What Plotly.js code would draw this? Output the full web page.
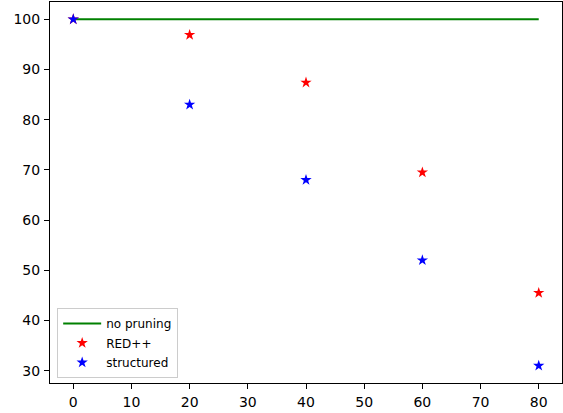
<!DOCTYPE html>
<html><head><meta charset="utf-8">
<script src="https://cdn.plot.ly/plotly-3.0.1.min.js"></script>
<style>body{margin:0;padding:0;}#chart{width:563px;height:413px;}</style>
</head><body><div id="chart"></div>
<script>
const pruning = [0, 20, 40, 60, 80];
const noPruningX = [0, 80];
const noPruningY = [100, 100];
const redpp = [100, 96.9, 87.4, 69.5, 45.5];
const structured = [100, 83.0, 68.0, 52.0, 31.0];
const xTicks = [0, 10, 20, 30, 40, 50, 60, 70, 80];
const yTicks = [30, 40, 50, 60, 70, 80, 90, 100];

const traces = [
  {x: noPruningX, y: noPruningY, mode: 'lines', name: 'no pruning', legendgroup: 'a', line: {color: 'green', width: 2}},
  {x: pruning, y: redpp, mode: 'markers', name: 'RED++', legendgroup: 'b', marker: {symbol: 'star', color: 'red', size: 8.5}},
  {x: pruning, y: structured, mode: 'markers', name: 'structured', legendgroup: 'c', marker: {symbol: 'star', color: 'blue', size: 8.5}}
];
const axisCommon = {
  showgrid: false, zeroline: false, showline: true, mirror: true,
  linecolor: 'black', linewidth: 1, ticks: 'outside', ticklen: 5, tickcolor: 'black',
  ticklabelstandoff: 1,
  tickfont: {family: 'DejaVu Sans', size: 14, color: 'black'}
};
const layout = {
  width: 563, height: 413,
  margin: {l: 50, r: 1, t: 2, b: 30},
  paper_bgcolor: 'white', plot_bgcolor: 'white',
  xaxis: Object.assign({}, axisCommon, {range: [-4, 84], tickvals: xTicks}),
  yaxis: Object.assign({}, axisCommon, {range: [27.55, 103.45], tickvals: yTicks}),
  showlegend: true,
  legend: {
    x: 0.014, y: 0.197, xanchor: 'left', yanchor: 'top',
    bgcolor: 'rgba(255,255,255,0.8)', bordercolor: '#cccccc', borderwidth: 1,
    font: {family: 'DejaVu Sans', size: 12, color: 'black'},
    itemwidth: 38, tracegroupgap: 0.5, entrywidth: 136, entrywidthmode: 'pixels'
  }
};
Plotly.newPlot('chart', traces, layout, {displayModeBar: false});
</script></body></html>
